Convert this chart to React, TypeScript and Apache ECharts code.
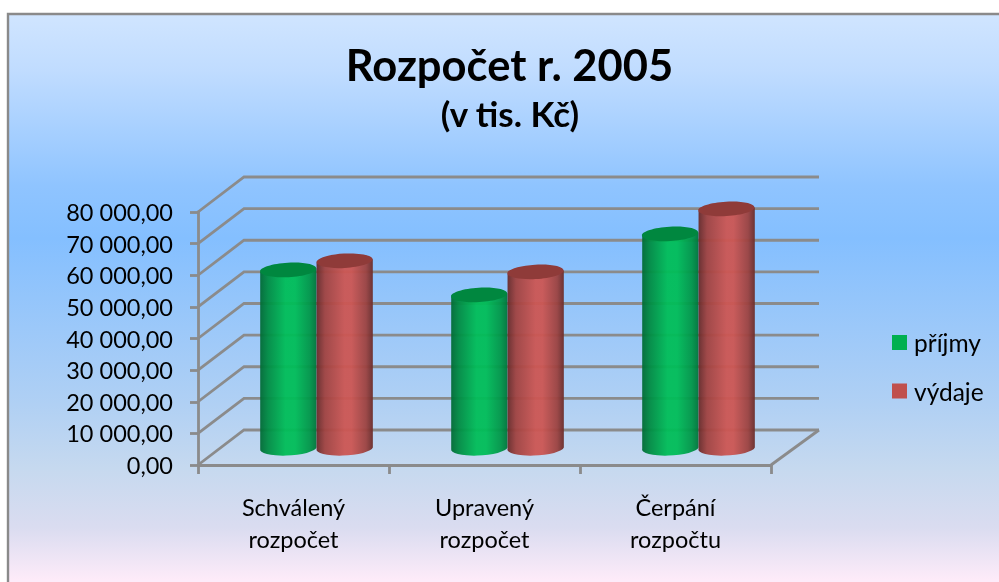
import React, { useEffect, useRef } from "react";
import * as echarts from "echarts";

const categories = ["Schválený\nrozpočet", "Upravený\nrozpočet", "Čerpání\nrozpočtu"];
const prijmy = [56100, 48200, 67500];
const vydaje = [59000, 55500, 75400];
const wallTicks = [0, 10000, 20000, 30000, 40000, 50000, 60000, 70000, 80000];
const seriesNames = ["příjmy", "výdaje"];
const FONT = "Lato, 'Open Sans', sans-serif";
const LINE = "#8b8b8b";
const LW = 2.8;
const DEPTH_X = 46;
const DEPTH_Y = 35;

const fmt = (v: number) => {
  const s = String(Math.round(v)).replace(/\B(?=(\d{3})+$)/g, " ");
  return s + ",00";
};

function cylinderItem(side: number, stops: any[], topFill: string) {
  return (_params: any, api: any) => {
    const idx = api.value(0);
    const val = api.value(1);
    const band = api.size([1, 0])[0];
    const rx = band * 0.1475;
    const ry = 7.2;
    const top = api.coord([idx, val]);
    const base = api.coord([idx, 0]);
    const cx = top[0] + DEPTH_X / 2 + side * rx;
    const yTop = top[1] - DEPTH_Y / 2;
    const yBase = base[1] - DEPTH_Y / 2;
    const d = 1.6;
    const x0 = cx - rx;
    const x1 = cx + rx;
    const path = `M ${x0} ${yTop + d} L ${x0} ${yBase + d} A ${rx} ${ry} -3.2 0 0 ${x1} ${yBase - d} L ${x1} ${yTop - d} Z`;
    return {
      type: "group",
      children: [
        {
          type: "path",
          shape: { pathData: path, layout: "cover", x: x0, y: yTop - d, width: x1 - x0, height: yBase + ry + d - yTop },
          style: { fill: new echarts.graphic.LinearGradient(0, 0, 1, 0, stops), opacity: 0.95 },
        },
        {
          type: "ellipse",
          shape: { cx, cy: yTop, rx, ry },
          rotation: 0.056,
          originX: cx,
          originY: yTop,
          style: { fill: topFill },
        },
      ],
    };
  };
}

const greenStops = [
  { offset: 0, color: "#006a35" },
  { offset: 0.14, color: "#008c43" },
  { offset: 0.45, color: "#00bd58" },
  { offset: 0.62, color: "#00bd58" },
  { offset: 0.88, color: "#009648" },
  { offset: 1, color: "#00753a" },
];
const redStops = [
  { offset: 0, color: "#682a29" },
  { offset: 0.15, color: "#a04240" },
  { offset: 0.5, color: "#cc5653" },
  { offset: 0.62, color: "#cc5653" },
  { offset: 0.88, color: "#9c4240" },
  { offset: 1, color: "#6a2c2a" },
];

function wallItem(params: any, api: any) {
  const v = api.value(1);
  const cs = params.coordSys;
  const y = api.coord([0, v])[1];
  const x0 = cs.x;
  const x1 = cs.x + cs.width;
  const style = { stroke: LINE, lineWidth: LW, fill: "none" };
  const children: any[] = [
    {
      type: "polyline",
      shape: { points: [[x0, y], [x0 + DEPTH_X, y - DEPTH_Y], [x1 + DEPTH_X + 2, y - DEPTH_Y]] },
      style,
    },
  ];
  if (v === 0) {
    children.push({
      type: "polyline",
      shape: { points: [[x1, y], [x1 + DEPTH_X + 2, y - DEPTH_Y]] },
      style,
    });
  }
  return { type: "group", children };
}

export default function App() {
  const ref = useRef<HTMLDivElement>(null);
  useEffect(() => {
    const chart = echarts.init(ref.current!, undefined, { renderer: "svg" });
    chart.setOption({
      animation: false,
      textStyle: { fontFamily: FONT, color: "#000" },
      graphic: {
        z: -10,
        elements: [
          {
            type: "rect",
            silent: true,
            shape: { x: 8, y: 14, width: 1100, height: 650 },
            style: {
              stroke: "#8a8a8a",
              lineWidth: 2.4,
              fill: new echarts.graphic.LinearGradient(0, 0, 0, 1, [
                { offset: 0, color: "#d0e5ff" },
                { offset: 0.088, color: "#c0dcff" },
                { offset: 0.265, color: "#8fc4ff" },
                { offset: 0.345, color: "#84bfff" },
                { offset: 0.6, color: "#b0d0f4" },
                { offset: 0.7, color: "#c6d9ef" },
                { offset: 0.79, color: "#dadcf0" },
                { offset: 0.87, color: "#fdebf9" },
                { offset: 1, color: "#fdebf9" },
              ]),
            },
          },
        ],
      },
      title: [
        {
          text: "Rozpočet r. 2005",
          left: 504.5,
          top: 37,
          textAlign: "center",
          textStyle: { fontFamily: FONT, fontSize: 43.5, fontWeight: "bold", color: "#000" },
        },
        {
          text: "(v tis. Kč)",
          left: 505,
          top: 90,
          textAlign: "center",
          textStyle: { fontFamily: FONT, fontSize: 35, fontWeight: "bold", color: "#000" },
        },
      ],
      legend: {
        data: seriesNames,
        orient: "vertical",
        left: 887,
        top: 325,
        icon: "rect",
        itemWidth: 15,
        itemHeight: 15,
        itemGap: 23.5,
        selectedMode: false,
        textStyle: { fontFamily: FONT, fontSize: 24.5, lineHeight: 24, color: "#000", padding: [0, 0, 0, 2] },
      },
      grid: { left: 198, top: 212, width: 573, height: 253 },
      xAxis: {
        type: "category",
        z: 2,
        data: categories,
        axisLine: { show: true, lineStyle: { color: LINE, width: LW } },
        axisTick: { show: true, length: 9, lineStyle: { color: LINE, width: LW } },
        axisLabel: { fontFamily: FONT, fontSize: 23.5, color: "#000", lineHeight: 32, margin: 26 },
      },
      yAxis: {
        type: "value",
        z: 2,
        min: 0,
        max: 80000,
        interval: 10000,
        axisLine: { show: true, lineStyle: { color: LINE, width: LW } },
        axisTick: { show: true, length: 8, lineStyle: { color: LINE, width: LW } },
        splitLine: { show: false },
        axisLabel: { fontFamily: FONT, fontSize: 23.5, color: "#000", margin: 25, padding: [2, 0, 0, 0], formatter: fmt },
      },
      series: [
        {
          type: "custom",
          name: "wall",
          coordinateSystem: "cartesian2d",
          silent: true,
          z: 1,
          renderItem: wallItem,
          encode: { x: 0, y: 1 },
          data: wallTicks.map((v) => [0, v]),
        },
        {
          type: "custom",
          name: seriesNames[0],
          coordinateSystem: "cartesian2d",
          z: 3,
          itemStyle: { color: "#00b050" },
          renderItem: cylinderItem(-1, greenStops, "#00873f"),
          encode: { x: 0, y: 1 },
          data: prijmy.map((v, i) => [i, v]),
        },
        {
          type: "custom",
          name: seriesNames[1],
          coordinateSystem: "cartesian2d",
          z: 4,
          itemStyle: { color: "#c0504d" },
          renderItem: cylinderItem(1, redStops, "#8f3b39"),
          encode: { x: 0, y: 1 },
          data: vydaje.map((v, i) => [i, v]),
        },
      ],
    });
    return () => chart.dispose();
  }, []);
  return <div ref={ref} style={{ position: "fixed", left: 0, top: 0, width: 999, height: 582 }} />;
}
